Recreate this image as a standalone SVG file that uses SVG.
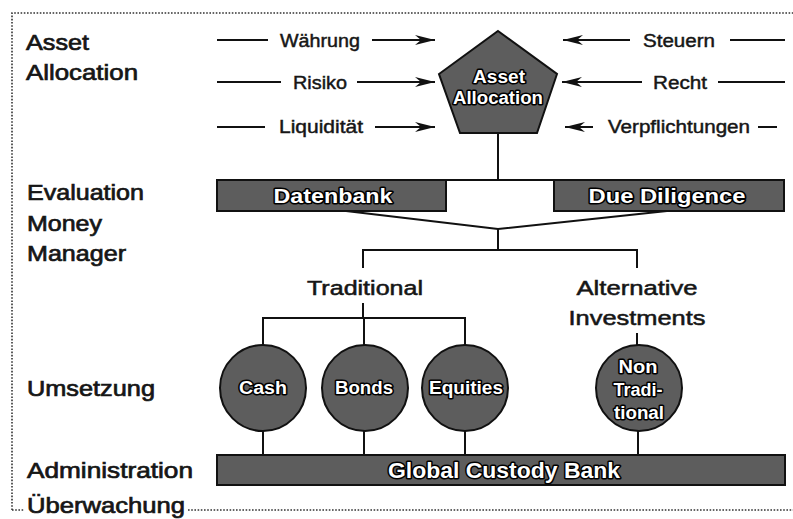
<svg xmlns="http://www.w3.org/2000/svg" width="793" height="519" viewBox="0 0 793 519">
<defs>
<style>
.lbl{font-family:"Liberation Sans",Arial,sans-serif;font-size:22px;fill:#161616;stroke:#161616;stroke-width:0.7px}
.arl{font-family:"Liberation Sans",Arial,sans-serif;font-size:18px;fill:#161616;stroke:#161616;stroke-width:0.45px}
.sub{font-family:"Liberation Sans",Arial,sans-serif;font-size:21px;fill:#161616;stroke:#161616;stroke-width:0.55px;text-anchor:middle}
.in{font-family:"Liberation Sans",Arial,sans-serif;font-weight:bold;fill:#ffffff;stroke:#000;stroke-width:3px;stroke-linejoin:round;paint-order:stroke;text-anchor:middle}
.shape{fill:#5d5d5d;stroke:#111;stroke-width:2}
.ln{stroke:#111;stroke-width:2;fill:none}
.frame{stroke:#333;stroke-width:1.6;stroke-dasharray:1.6 1.6;fill:none}
</style>
<marker id="ah" viewBox="0 0 20 10" refX="20" refY="5" markerWidth="20" markerHeight="10" markerUnits="userSpaceOnUse" orient="auto">
<path d="M0,0 L20,5 L0,10 L6,5 Z" fill="#111"/>
</marker>
</defs>
<rect width="793" height="519" fill="#fff"/>

<g id="frame">
<path class="frame" d="M12,510 V13 H793"/>
<path class="frame" d="M12,510 H24 M188,510 H793"/>
</g>

<g id="row-labels">
<text class="lbl" x="26" y="50" textLength="63" lengthAdjust="spacingAndGlyphs">Asset</text>
<text class="lbl" x="26" y="80" textLength="112" lengthAdjust="spacingAndGlyphs">Allocation</text>
<text class="lbl" x="27" y="200" textLength="117" lengthAdjust="spacingAndGlyphs">Evaluation</text>
<text class="lbl" x="27" y="231" textLength="75" lengthAdjust="spacingAndGlyphs">Money</text>
<text class="lbl" x="27" y="261" textLength="99" lengthAdjust="spacingAndGlyphs">Manager</text>
<text class="lbl" x="27" y="396" textLength="128" lengthAdjust="spacingAndGlyphs">Umsetzung</text>
<text class="lbl" x="27" y="478" textLength="166" lengthAdjust="spacingAndGlyphs">Administration</text>
<text class="lbl" x="27" y="513" textLength="158" lengthAdjust="spacingAndGlyphs">Überwachung</text>
</g>

<g id="connectors">
<line class="ln" x1="217" y1="40" x2="268" y2="40"/>
<line class="ln" x1="372" y1="40" x2="435" y2="40" marker-end="url(#ah)"/>
<line class="ln" x1="217" y1="82" x2="281" y2="82"/>
<line class="ln" x1="357" y1="82" x2="435" y2="82" marker-end="url(#ah)"/>
<line class="ln" x1="217" y1="127" x2="265" y2="127"/>
<line class="ln" x1="375" y1="127" x2="435" y2="127" marker-end="url(#ah)"/>
<line class="ln" x1="630" y1="40" x2="563" y2="40" marker-end="url(#ah)"/>
<line class="ln" x1="730" y1="40" x2="785" y2="40"/>
<line class="ln" x1="642" y1="82" x2="562" y2="82" marker-end="url(#ah)"/>
<line class="ln" x1="718" y1="82" x2="785" y2="82"/>
<line class="ln" x1="593" y1="127" x2="565" y2="127" marker-end="url(#ah)"/>
<line class="ln" x1="758" y1="127" x2="777" y2="127"/>
<line class="ln" x1="498" y1="133" x2="498" y2="180"/>
<line class="ln" x1="217" y1="180" x2="784" y2="180"/>
<polyline class="ln" points="346,211 498,229 667,211"/>
<line class="ln" x1="498" y1="229" x2="498" y2="250"/>
<polyline class="ln" points="363,268 363,250 637,250 637,268"/>
<line class="ln" x1="363" y1="303" x2="363" y2="318"/>
<polyline class="ln" points="263,346 263,318 465,318 465,346"/>
<line class="ln" x1="364" y1="318" x2="364" y2="346"/>
<line class="ln" x1="637" y1="333" x2="637" y2="346"/>
<line class="ln" x1="263" y1="430" x2="263" y2="455"/>
<line class="ln" x1="364" y1="430" x2="364" y2="455"/>
<line class="ln" x1="465" y1="430" x2="465" y2="455"/>
<line class="ln" x1="638" y1="430" x2="638" y2="455"/>
</g>

<g id="factor-labels">
<text class="arl" x="280" y="47" textLength="80" lengthAdjust="spacingAndGlyphs">Währung</text>
<text class="arl" x="293" y="89" textLength="54" lengthAdjust="spacingAndGlyphs">Risiko</text>
<text class="arl" x="279" y="133" textLength="84" lengthAdjust="spacingAndGlyphs">Liquidität</text>
<text class="arl" x="643" y="47" textLength="72" lengthAdjust="spacingAndGlyphs">Steuern</text>
<text class="arl" x="653" y="89" textLength="54" lengthAdjust="spacingAndGlyphs">Recht</text>
<text class="arl" x="608" y="133" textLength="142" lengthAdjust="spacingAndGlyphs">Verpflichtungen</text>
</g>

<g id="asset-allocation">
<polygon class="shape" points="498,31 557,74 537,133 460,133 439,74"/>
<text class="in" x="499" y="83" font-size="17.5" textLength="52" lengthAdjust="spacingAndGlyphs">Asset</text>
<text class="in" x="498" y="104" font-size="17.5" textLength="90" lengthAdjust="spacingAndGlyphs">Allocation</text>
</g>

<g id="datenbank">
<rect class="shape" x="217" y="180" width="229" height="31"/>
<text class="in" x="333" y="203" font-size="21" textLength="119" lengthAdjust="spacingAndGlyphs">Datenbank</text>
</g>

<g id="due-diligence">
<rect class="shape" x="554" y="180" width="230" height="31"/>
<text class="in" x="667" y="203" font-size="21" textLength="157" lengthAdjust="spacingAndGlyphs">Due Diligence</text>
</g>

<g id="traditional">
<text class="sub" x="365" y="295" textLength="116" lengthAdjust="spacingAndGlyphs">Traditional</text>
</g>

<g id="alternative">
<text class="sub" x="637" y="295" textLength="121" lengthAdjust="spacingAndGlyphs">Alternative</text>
<text class="sub" x="637" y="325" textLength="137" lengthAdjust="spacingAndGlyphs">Investments</text>
</g>

<g id="cash">
<circle class="shape" cx="263" cy="388" r="43"/>
<text class="in" x="263" y="394" font-size="18" textLength="48" lengthAdjust="spacingAndGlyphs">Cash</text>
</g>

<g id="bonds">
<circle class="shape" cx="365" cy="388" r="43"/>
<text class="in" x="364" y="394" font-size="18" textLength="58" lengthAdjust="spacingAndGlyphs">Bonds</text>
</g>

<g id="equities">
<circle class="shape" cx="465" cy="388" r="43"/>
<text class="in" x="466" y="394" font-size="18" textLength="74" lengthAdjust="spacingAndGlyphs">Equities</text>
</g>

<g id="non-traditional">
<circle class="shape" cx="639" cy="388" r="43"/>
<text class="in" x="638" y="373" font-size="18" textLength="39" lengthAdjust="spacingAndGlyphs">Non</text>
<text class="in" x="638" y="396" font-size="18" textLength="49" lengthAdjust="spacingAndGlyphs">Tradi-</text>
<text class="in" x="639" y="419" font-size="18" textLength="50" lengthAdjust="spacingAndGlyphs">tional</text>
</g>

<g id="global-custody-bank">
<rect class="shape" x="217" y="455" width="568" height="30"/>
<text class="in" x="504" y="478" font-size="22" textLength="232" lengthAdjust="spacingAndGlyphs">Global Custody Bank</text>
</g>
</svg>
